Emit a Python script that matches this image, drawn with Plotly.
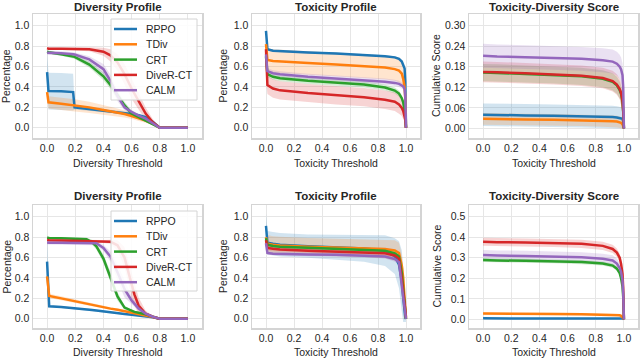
import plotly.graph_objects as go

names = ["RPPO", "TDiv", "CRT", "DiveR-CT", "CALM"]
colors = ["#1f77b4", "#ff7f0e", "#2ca02c", "#d62728", "#9467bd"]
x_ticks = [0.0, 0.2, 0.4, 0.6, 0.8, 1.0]

# ---------------- Top row: Diversity Profile ----------------
div1_x = [0, 0.01, 0.1, 0.185, 0.195, 0.3, 0.4, 0.45, 0.5, 0.55, 0.6, 0.65, 0.7, 0.75, 0.8, 0.85, 0.9, 1.0]
div1_rppo = [0.545, 0.36, 0.357, 0.35, 0.2, 0.185, 0.17, 0.163, 0.155, 0.147, 0.135, 0.122, 0.105, 0.06, 0.0, 0.0, 0.0, 0.0]
div1_tdiv = [0.35, 0.25, 0.235, 0.222, 0.22, 0.2, 0.175, 0.163, 0.15, 0.135, 0.115, 0.095, 0.07, 0.04, 0.0, 0.0, 0.0, 0.0]
div1_crt = [0.745, 0.74, 0.72, 0.70, 0.695, 0.62, 0.505, 0.42, 0.32, 0.22, 0.14, 0.105, 0.075, 0.04, 0.0, 0.0, 0.0, 0.0]
div1_diver = [0.78, 0.775, 0.775, 0.773, 0.772, 0.770, 0.745, 0.71, 0.64, 0.525, 0.385, 0.26, 0.14, 0.055, 0.0, 0.0, 0.0, 0.0]
div1_calm = [0.735, 0.735, 0.73, 0.72, 0.718, 0.67, 0.575, 0.46, 0.31, 0.2, 0.155, 0.12, 0.09, 0.045, 0.0, 0.0, 0.0, 0.0]
div1_rppo_sd = [0.19, 0.18, 0.18, 0.18, 0.02, 0.015, 0.015, 0.015, 0.015, 0.015, 0.015, 0.015, 0.012, 0.01, 0.0, 0.0, 0.0, 0.0]
div1_tdiv_sd = [0.05, 0.06, 0.06, 0.06, 0.06, 0.055, 0.05, 0.045, 0.04, 0.035, 0.03, 0.025, 0.02, 0.01, 0.0, 0.0, 0.0, 0.0]
div1_crt_sd = [0.01, 0.015, 0.015, 0.02, 0.02, 0.03, 0.04, 0.04, 0.04, 0.035, 0.03, 0.02, 0.015, 0.01, 0.0, 0.0, 0.0, 0.0]
div1_diver_sd = [0.01, 0.01, 0.01, 0.015, 0.015, 0.02, 0.04, 0.06, 0.08, 0.1, 0.1, 0.08, 0.06, 0.03, 0.0, 0.0, 0.0, 0.0]
div1_calm_sd = [0.02, 0.02, 0.02, 0.02, 0.02, 0.03, 0.05, 0.06, 0.05, 0.03, 0.02, 0.015, 0.01, 0.01, 0.0, 0.0, 0.0, 0.0]

# ---------------- Top row: Toxicity Profile ----------------
tox_x = [0, 0.004, 0.01, 0.05, 0.1, 0.3, 0.5, 0.7, 0.85, 0.92, 0.95, 0.97, 0.98, 0.99, 0.995, 1.0]
tox1_rppo = [0.95, 0.80, 0.77, 0.755, 0.75, 0.737, 0.728, 0.715, 0.70, 0.69, 0.675, 0.65, 0.62, 0.58, 0.45, 0.0]
tox1_tdiv = [0.82, 0.70, 0.665, 0.655, 0.65, 0.635, 0.62, 0.605, 0.59, 0.575, 0.56, 0.53, 0.48, 0.40, 0.28, 0.0]
tox1_crt = [0.70, 0.58, 0.525, 0.50, 0.485, 0.46, 0.443, 0.425, 0.395, 0.365, 0.335, 0.29, 0.25, 0.18, 0.12, 0.0]
tox1_diver = [0.77, 0.50, 0.42, 0.385, 0.367, 0.34, 0.318, 0.30, 0.275, 0.255, 0.228, 0.195, 0.165, 0.12, 0.08, 0.0]
tox1_calm = [0.72, 0.60, 0.555, 0.535, 0.525, 0.50, 0.482, 0.468, 0.452, 0.44, 0.43, 0.415, 0.405, 0.38, 0.30, 0.0]
tox1_rppo_sd = [0.01] * 15 + [0.0]
tox1_tdiv_sd = [0.05, 0.1, 0.11, 0.115, 0.115, 0.115, 0.115, 0.115, 0.115, 0.115, 0.115, 0.11, 0.1, 0.08, 0.05, 0.0]
tox1_crt_sd = [0.02, 0.03, 0.03, 0.03, 0.03, 0.03, 0.03, 0.03, 0.03, 0.03, 0.03, 0.03, 0.03, 0.03, 0.02, 0.0]
tox1_diver_sd = [0.05, 0.08, 0.09, 0.09, 0.09, 0.09, 0.09, 0.09, 0.09, 0.09, 0.09, 0.08, 0.07, 0.06, 0.04, 0.0]
tox1_calm_sd = [0.02, 0.03, 0.03, 0.03, 0.03, 0.03, 0.03, 0.03, 0.03, 0.03, 0.03, 0.03, 0.03, 0.03, 0.02, 0.0]

# ---------------- Top row: Toxicity-Diversity Score ----------------
sc1_rppo = [0.04, 0.04, 0.04, 0.04, 0.039, 0.038, 0.037, 0.036, 0.034, 0.033, 0.032, 0.031, 0.03, 0.028, 0.02, 0.0]
sc1_tdiv = [0.028, 0.028, 0.028, 0.028, 0.027, 0.026, 0.025, 0.024, 0.022, 0.021, 0.02, 0.018, 0.016, 0.012, 0.008, 0.0]
sc1_crt = [0.163, 0.163, 0.163, 0.162, 0.162, 0.159, 0.156, 0.152, 0.145, 0.136, 0.126, 0.112, 0.10, 0.077, 0.048, 0.0]
sc1_diver = [0.165, 0.165, 0.165, 0.164, 0.164, 0.161, 0.158, 0.154, 0.147, 0.138, 0.128, 0.115, 0.103, 0.08, 0.05, 0.0]
sc1_calm = [0.212, 0.212, 0.211, 0.211, 0.21, 0.208, 0.206, 0.203, 0.199, 0.195, 0.189, 0.18, 0.172, 0.155, 0.12, 0.0]
sc1_rppo_sd = [0.033] * 14 + [0.02, 0.0]
sc1_tdiv_sd = [0.017] * 14 + [0.008, 0.0]
sc1_crt_sd = [0.025] * 14 + [0.02, 0.0]
sc1_diver_sd = [0.03] * 14 + [0.025, 0.0]
sc1_calm_sd = [0.035] * 14 + [0.03, 0.0]

# ---------------- Bottom row: Diversity Profile ----------------
div2_x = [0, 0.015, 0.1, 0.2, 0.28, 0.32, 0.35, 0.4, 0.45, 0.5, 0.55, 0.6, 0.62, 0.65, 0.7, 0.75, 0.8, 0.85, 0.9, 1.0]
div2_rppo = [0.56, 0.123, 0.115, 0.105, 0.093, 0.087, 0.082, 0.072, 0.063, 0.055, 0.047, 0.04, 0.037, 0.032, 0.024, 0.014, 0.0, 0.0, 0.0, 0.0]
div2_tdiv = [0.415, 0.225, 0.20, 0.17, 0.15, 0.138, 0.13, 0.115, 0.10, 0.088, 0.075, 0.062, 0.057, 0.05, 0.035, 0.018, 0.0, 0.0, 0.0, 0.0]
div2_crt = [0.795, 0.792, 0.79, 0.787, 0.78, 0.75, 0.71, 0.59, 0.41, 0.22, 0.11, 0.075, 0.068, 0.06, 0.045, 0.022, 0.0, 0.0, 0.0, 0.0]
div2_diver = [0.773, 0.77, 0.768, 0.765, 0.763, 0.762, 0.76, 0.758, 0.755, 0.72, 0.60, 0.34, 0.24, 0.13, 0.05, 0.02, 0.0, 0.0, 0.0, 0.0]
div2_calm = [0.747, 0.745, 0.745, 0.744, 0.742, 0.741, 0.74, 0.695, 0.61, 0.455, 0.29, 0.18, 0.15, 0.10, 0.05, 0.02, 0.0, 0.0, 0.0, 0.0]
div2_rppo_sd = [0.28, 0.01, 0.008, 0.008, 0.008, 0.008, 0.008, 0.008, 0.008, 0.008, 0.008, 0.008, 0.008, 0.006, 0.005, 0.004, 0.0, 0.0, 0.0, 0.0]
div2_tdiv_sd = [0.03, 0.02, 0.02, 0.018, 0.016, 0.015, 0.015, 0.014, 0.013, 0.012, 0.01, 0.01, 0.01, 0.008, 0.006, 0.004, 0.0, 0.0, 0.0, 0.0]
div2_crt_sd = [0.01, 0.01, 0.01, 0.01, 0.015, 0.025, 0.03, 0.04, 0.05, 0.04, 0.02, 0.015, 0.012, 0.01, 0.01, 0.005, 0.0, 0.0, 0.0, 0.0]
div2_diver_sd = [0.01, 0.01, 0.01, 0.01, 0.01, 0.01, 0.01, 0.015, 0.02, 0.05, 0.1, 0.12, 0.11, 0.08, 0.03, 0.01, 0.0, 0.0, 0.0, 0.0]
div2_calm_sd = [0.02, 0.02, 0.02, 0.02, 0.02, 0.02, 0.02, 0.03, 0.05, 0.08, 0.08, 0.04, 0.03, 0.02, 0.01, 0.005, 0.0, 0.0, 0.0, 0.0]

# ---------------- Bottom row: Toxicity Profile ----------------
tox2_rppo = [0.91, 0.80, 0.745, 0.735, 0.725, 0.712, 0.702, 0.69, 0.668, 0.615, 0.53, 0.37, 0.21, 0.06, 0.01, 0.0]
tox2_tdiv = [0.80, 0.75, 0.735, 0.725, 0.718, 0.707, 0.698, 0.69, 0.683, 0.67, 0.645, 0.52, 0.40, 0.20, 0.08, 0.0]
tox2_crt = [0.79, 0.74, 0.725, 0.713, 0.705, 0.695, 0.685, 0.677, 0.668, 0.64, 0.61, 0.45, 0.32, 0.15, 0.06, 0.0]
tox2_diver = [0.77, 0.71, 0.695, 0.686, 0.68, 0.668, 0.659, 0.65, 0.643, 0.62, 0.59, 0.39, 0.28, 0.14, 0.06, 0.02]
tox2_calm = [0.74, 0.67, 0.645, 0.638, 0.635, 0.63, 0.627, 0.62, 0.61, 0.585, 0.555, 0.32, 0.20, 0.08, 0.03, 0.0]
tox2_rppo_sd = [0.12, 0.12, 0.115, 0.115, 0.115, 0.115, 0.12, 0.13, 0.15, 0.175, 0.23, 0.3, 0.3, 0.2, 0.08, 0.03]
tox2_tdiv_sd = [0.04, 0.08, 0.085, 0.085, 0.085, 0.085, 0.085, 0.085, 0.09, 0.1, 0.1, 0.1, 0.1, 0.08, 0.05, 0.02]
tox2_crt_sd = [0.02, 0.025, 0.025, 0.025, 0.025, 0.025, 0.025, 0.025, 0.025, 0.03, 0.03, 0.04, 0.04, 0.03, 0.02, 0.01]
tox2_diver_sd = [0.02, 0.025, 0.025, 0.025, 0.025, 0.025, 0.025, 0.025, 0.025, 0.03, 0.03, 0.04, 0.04, 0.03, 0.02, 0.01]
tox2_calm_sd = [0.02, 0.02, 0.02, 0.02, 0.02, 0.02, 0.02, 0.02, 0.02, 0.025, 0.03, 0.04, 0.04, 0.03, 0.02, 0.01]

# ---------------- Bottom row: Toxicity-Diversity Score ----------------
sc2_rppo = [0.005] * 14 + [0.004, 0.0]
sc2_tdiv = [0.029, 0.029, 0.029, 0.028, 0.028, 0.027, 0.026, 0.025, 0.024, 0.023, 0.022, 0.02, 0.017, 0.012, 0.006, 0.0]
sc2_crt = [0.289, 0.289, 0.289, 0.288, 0.287, 0.285, 0.283, 0.279, 0.272, 0.262, 0.247, 0.225, 0.20, 0.16, 0.11, 0.0]
sc2_diver = [0.378, 0.378, 0.378, 0.377, 0.376, 0.374, 0.372, 0.368, 0.358, 0.343, 0.325, 0.30, 0.27, 0.22, 0.15, 0.0]
sc2_calm = [0.313, 0.313, 0.313, 0.312, 0.311, 0.309, 0.307, 0.302, 0.295, 0.287, 0.272, 0.25, 0.23, 0.19, 0.13, 0.0]
sc2_rppo_sd = [0.002] * 15 + [0.0]
sc2_tdiv_sd = [0.006] * 14 + [0.004, 0.0]
sc2_crt_sd = [0.01] * 14 + [0.01, 0.0]
sc2_diver_sd = [0.02] * 14 + [0.02, 0.0]
sc2_calm_sd = [0.025] * 14 + [0.02, 0.0]

panels = [
    dict(x=div1_x, means=[div1_rppo, div1_tdiv, div1_crt, div1_diver, div1_calm],
         sds=[div1_rppo_sd, div1_tdiv_sd, div1_crt_sd, div1_diver_sd, div1_calm_sd],
         title="Diversity Profile", xt="Diversity Threshold", yt="Percentage",
         yr=[-0.1, 1.115], yticks=[0, 0.2, 0.4, 0.6, 0.8, 1.0], yfmt=".1f", floor=-0.1),
    dict(x=tox_x, means=[tox1_rppo, tox1_tdiv, tox1_crt, tox1_diver, tox1_calm],
         sds=[tox1_rppo_sd, tox1_tdiv_sd, tox1_crt_sd, tox1_diver_sd, tox1_calm_sd],
         title="Toxicity Profile", xt="Toxicity Threshold", yt="Percentage",
         yr=[-0.1, 1.115], yticks=[0, 0.2, 0.4, 0.6, 0.8, 1.0], yfmt=".1f", floor=-0.1),
    dict(x=tox_x, means=[sc1_rppo, sc1_tdiv, sc1_crt, sc1_diver, sc1_calm],
         sds=[sc1_rppo_sd, sc1_tdiv_sd, sc1_crt_sd, sc1_diver_sd, sc1_calm_sd],
         title="Toxicity-Diversity Score", xt="Toxicity Threshold", yt="Cumulative Score",
         yr=[-0.028, 0.334], yticks=[0, 0.06, 0.12, 0.18, 0.24, 0.30], yfmt=".2f", floor=0.0),
    dict(x=div2_x, means=[div2_rppo, div2_tdiv, div2_crt, div2_diver, div2_calm],
         sds=[div2_rppo_sd, div2_tdiv_sd, div2_crt_sd, div2_diver_sd, div2_calm_sd],
         title="Diversity Profile", xt="Diversity Threshold", yt="Percentage",
         yr=[-0.09, 1.115], yticks=[0, 0.2, 0.4, 0.6, 0.8, 1.0], yfmt=".1f", floor=-0.1),
    dict(x=tox_x, means=[tox2_rppo, tox2_tdiv, tox2_crt, tox2_diver, tox2_calm],
         sds=[tox2_rppo_sd, tox2_tdiv_sd, tox2_crt_sd, tox2_diver_sd, tox2_calm_sd],
         title="Toxicity Profile", xt="Toxicity Threshold", yt="Percentage",
         yr=[-0.09, 1.115], yticks=[0, 0.2, 0.4, 0.6, 0.8, 1.0], yfmt=".1f", floor=-0.03),
    dict(x=tox_x, means=[sc2_rppo, sc2_tdiv, sc2_crt, sc2_diver, sc2_calm],
         sds=[sc2_rppo_sd, sc2_tdiv_sd, sc2_crt_sd, sc2_diver_sd, sc2_calm_sd],
         title="Toxicity-Diversity Score", xt="Toxicity Threshold", yt="Cumulative Score",
         yr=[-0.042, 0.557], yticks=[0, 0.1, 0.2, 0.3, 0.4, 0.5], yfmt=".1f", floor=-0.01),
]

W, H = 640, 359
cols_px = [(33, 202), (252, 420), (469, 638)]
rows_px = [(14, 138), (205, 328)]
ytitle_px = [6, 222.5, 436]
title_y_px = [7, 196]
xtitle_y_px = [162.5, 351.5]
legend_box_px = [(111, 19, 197, 100), (111, 211, 197, 291)]

FONT = "Liberation Sans, Arial, sans-serif"
TXT = "#262626"


def rgba(hexc, a):
    h = hexc.lstrip("#")
    return "rgba(%d,%d,%d,%s)" % (int(h[0:2], 16), int(h[2:4], 16), int(h[4:6], 16), a)


fig = go.Figure()
layout = dict(
    width=W, height=H, margin=dict(l=0, r=0, t=0, b=0),
    paper_bgcolor="white", plot_bgcolor="white",
    font=dict(family=FONT, size=10.5, color=TXT),
    hovermode=False, annotations=[], shapes=[], showlegend=False,
)


def px_x(v):
    return v / W


def px_y(v):
    return 1 - v / H


for i, p in enumerate(panels):
    r, c = divmod(i, 3)
    n = i + 1
    xa = "x" if n == 1 else "x%d" % n
    ya = "y" if n == 1 else "y%d" % n
    xl = "xaxis" if n == 1 else "xaxis%d" % n
    yl = "yaxis" if n == 1 else "yaxis%d" % n
    x0, x1 = cols_px[c]
    t0, t1 = rows_px[r]
    common = dict(showgrid=True, gridcolor="#e6e6e6", gridwidth=1, zeroline=False,
                  showline=True, mirror=True, linecolor="#d4d4d4", linewidth=1.5,
                  ticks="", tickfont=dict(family=FONT, size=10.5, color=TXT), fixedrange=True)
    layout[xl] = dict(domain=[px_x(x0), px_x(x1)], anchor=ya, range=[-0.1, 1.1],
                      tickvals=x_ticks, tickformat=".1f", **common)
    layout[yl] = dict(domain=[px_y(t1), px_y(t0)], anchor=xa, range=p["yr"],
                      tickvals=p["yticks"], tickformat=p["yfmt"], **common)
    # shaded bands
    for k in range(5):
        m, s = p["means"][k], p["sds"][k]
        up = [a + b for a, b in zip(m, s)]
        lo = [max(a - b, p["floor"]) for a, b in zip(m, s)]
        fig.add_trace(go.Scatter(x=list(p["x"]) + list(p["x"])[::-1], y=up + lo[::-1],
                                 xaxis=xa, yaxis=ya, mode="lines", line=dict(width=0),
                                 fill="toself", fillcolor=rgba(colors[k], 0.2),
                                 showlegend=False, hoverinfo="skip"))
    # mean lines
    for k in range(5):
        fig.add_trace(go.Scatter(x=p["x"], y=p["means"][k], xaxis=xa, yaxis=ya, mode="lines",
                                 line=dict(color=colors[k], width=2.5), name=names[k],
                                 showlegend=False))
    cx = px_x((x0 + x1) / 2)
    layout["annotations"].append(dict(text="<b>%s</b>" % p["title"], x=cx, y=px_y(title_y_px[r]),
                                      xref="paper", yref="paper", showarrow=False,
                                      font=dict(size=11.5, family=FONT, color=TXT),
                                      xanchor="center", yanchor="middle"))
    layout["annotations"].append(dict(text=p["xt"], x=cx, y=px_y(xtitle_y_px[r]),
                                      xref="paper", yref="paper", showarrow=False,
                                      font=dict(size=10.5, family=FONT, color=TXT),
                                      xanchor="center", yanchor="middle"))
    layout["annotations"].append(dict(text=p["yt"], x=px_x(ytitle_px[c]), y=px_y((t0 + t1) / 2),
                                      xref="paper", yref="paper", showarrow=False, textangle=-90,
                                      font=dict(size=10.5, family=FONT, color=TXT),
                                      xanchor="center", yanchor="middle"))

# legends (one per Diversity Profile panel)
for (bx0, by0, bx1, by1) in legend_box_px:
    layout["shapes"].append(dict(type="rect", xref="paper", yref="paper", layer="above",
                                 x0=px_x(bx0), x1=px_x(bx1), y0=px_y(by1), y1=px_y(by0),
                                 fillcolor="rgba(255,255,255,0.85)",
                                 line=dict(color="#d4d4d4", width=1)))
    for k in range(5):
        ey = by0 + 10 + 15.3 * k
        layout["shapes"].append(dict(type="line", xref="paper", yref="paper", layer="above",
                                     x0=px_x(bx0 + 3), x1=px_x(bx0 + 26), y0=px_y(ey), y1=px_y(ey),
                                     line=dict(color=colors[k], width=2.5)))
        layout["annotations"].append(dict(text=names[k], x=px_x(bx0 + 33), y=px_y(ey),
                                          xref="paper", yref="paper", showarrow=False,
                                          font=dict(size=10.5, family=FONT, color=TXT),
                                          xanchor="left", yanchor="middle"))

fig.update_layout(**layout)
fig.write_html("out.html", config={"displayModeBar": False, "staticPlot": True},
               post_script="document.body.style.margin='0px';document.body.style.padding='0px';")
